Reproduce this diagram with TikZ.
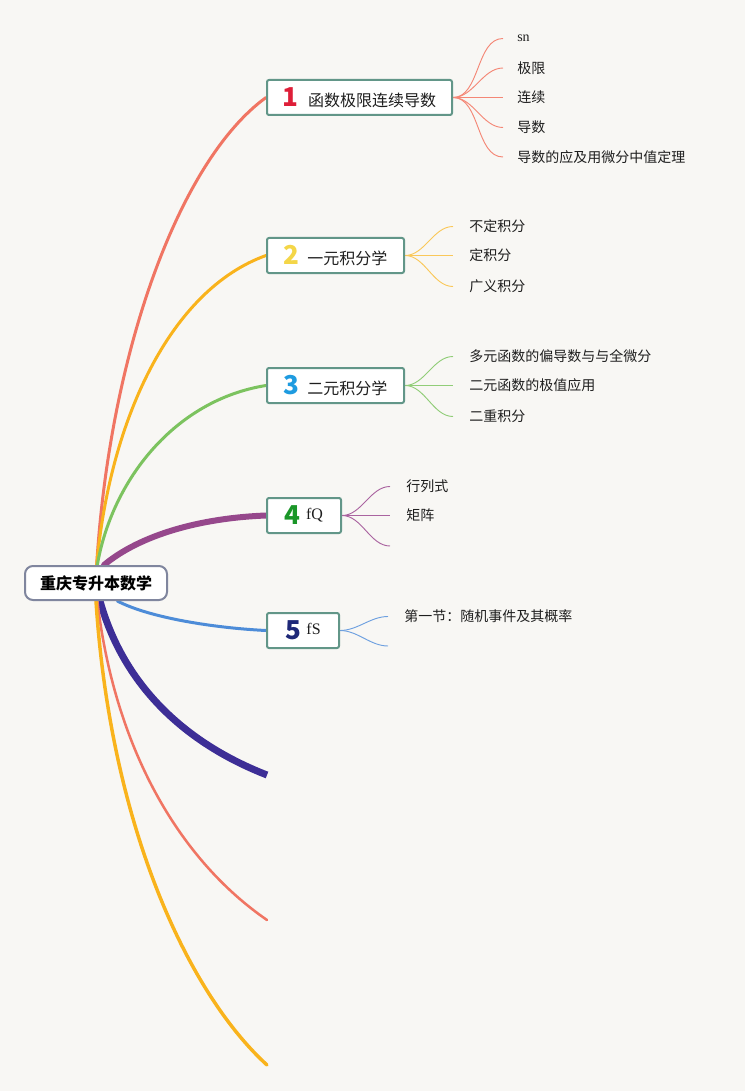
\documentclass[tikz,border=0pt]{standalone}
\usepackage{fontspec}
\setmainfont{Noto Sans CJK SC}
\newfontfamily\cjk{Noto Sans CJK SC}
\newfontfamily\serifen{Liberation Serif}
\definecolor{bgc}{RGB}{248,247,244}
\definecolor{boxline}{RGB}{98,150,136}
\definecolor{rootline}{RGB}{128,134,158}
\definecolor{cRed}{RGB}{240,117,99}
\definecolor{cYel}{RGB}{249,179,28}
\definecolor{cGrn}{RGB}{124,195,95}
\definecolor{cPur}{RGB}{150,72,140}
\definecolor{cBlu}{RGB}{77,140,216}
\definecolor{cNavy}{RGB}{61,46,150}
\definecolor{sRed}{RGB}{244,135,118}
\definecolor{sYel}{RGB}{250,200,90}
\definecolor{sGrn}{RGB}{145,205,120}
\definecolor{sPur}{RGB}{170,100,160}
\definecolor{sBlu}{RGB}{110,160,224}
\definecolor{nRed}{RGB}{222,30,56}
\definecolor{nYel}{RGB}{244,214,72}
\definecolor{nBlu}{RGB}{30,155,224}
\definecolor{nGrn}{RGB}{26,150,40}
\definecolor{nNavy}{RGB}{30,40,120}
\definecolor{txt}{RGB}{30,30,30}
\pgfdeclarelayer{bglayer}
\pgfdeclarelayer{lines}
\pgfsetlayers{bglayer,lines,main}
\newcommand{\numtxt}[2]{{\color{#1}\fontsize{19.5}{19.5}\selectfont\bfseries #2}}
\tikzset{
  topic/.style={draw=boxline, line width=1.5pt, fill=white, rounded corners=1.5pt,
    minimum height=26.25pt, inner sep=0pt, font=\fontsize{12}{12}\selectfont, text=txt},
  rootbox/.style={draw=rootline, line width=1.5pt, fill=white, rounded corners=6pt,
    minimum width=106.5pt, minimum height=25.5pt, inner sep=0pt,
    font=\fontsize{12}{12}\selectfont\bfseries, text=black},
  leaf/.style={anchor=west, inner sep=0pt, font=\fontsize{10.5}{10.5}\selectfont, text=txt},
  main/.style={line width=2.25pt, line cap=round},
  sub/.style={line width=0.7pt, out=0, in=180, looseness=0.9},
}
\begin{document}
\begin{tikzpicture}[x=0.75pt,y=-0.75pt]
\useasboundingbox (0,0) rectangle (745,1091);
\begin{pgfonlayer}{bglayer}
\fill[bgc] (0,0) rectangle (745,1091);
\end{pgfonlayer}

% root
\node[rootbox] (root) at (96,583) {重庆专升本数学};

% topics
\node[topic, minimum width=138.75pt] (b1) at (359.5,97.5) {\numtxt{nRed}{1}\hspace{7pt}函数极限连续导数};
\node[topic, minimum width=102.75pt] (b2) at (335.5,255.5) {\numtxt{nYel}{2}\hspace{6pt}一元积分学};
\node[topic, minimum width=102.75pt] (b3) at (335.5,385.5) {\numtxt{nBlu}{3}\hspace{6pt}二元积分学};
\node[topic, minimum width=55.5pt] (b4) at (304,515.5) {\numtxt{nGrn}{4}\hspace{4pt}\raisebox{4pt}{\serifen fQ}};
\node[topic, minimum width=54pt] (b5) at (303,630.5) {\numtxt{nNavy}{5}\hspace{4pt}\raisebox{4pt}{\serifen fS}};

% leaves
\node[leaf] (l11) at (517,38.5) {\serifen sn};
\node[leaf] (l12) at (517,68) {极限};
\node[leaf] (l13) at (517,97.5) {连续};
\node[leaf] (l14) at (517,127.5) {导数};
\node[leaf] (l15) at (517,157) {导数的应及用微分中值定理};

\node[leaf] (l21) at (469,226.5) {不定积分};
\node[leaf] (l22) at (469,255.5) {定积分};
\node[leaf] (l23) at (469,286.5) {广义积分};

\node[leaf] (l31) at (469,356.5) {多元函数的偏导数与与全微分};
\node[leaf] (l32) at (469,385.5) {二元函数的极值应用};
\node[leaf] (l33) at (469,416.5) {二重积分};

\node[leaf] (l41) at (406,486.5) {行列式};
\node[leaf] (l42) at (406,515.5) {矩阵};
\coordinate (l43) at (390,546);

\node[leaf] (l51) at (404,616.5) {第一节：随机事件及其概率};
\coordinate (l52) at (388,646);

% free ends
\coordinate (e6) at (267,775);
\coordinate (e7) at (267,920);
\coordinate (e8) at (267,1065);

\begin{pgfonlayer}{lines}
% main branches
\draw[main, cRed] ([xshift=0.5pt]root.north) .. controls (110,350) and (180,160) .. (b1.west);
\draw[main, cYel] ([xshift=0.5pt]root.north) .. controls (110,420) and (170,290) .. (b2.west);
\draw[main, cGrn] ([xshift=1pt]root.north) .. controls (112,480) and (175,400) .. (b3.west);
\draw[main, cPur, line width=4.5pt] ([xshift=6pt]root.north) .. controls (140,535) and (200,518) .. (b4.west);
\draw[main, cBlu] ([xshift=16pt]root.south) .. controls (150,618) and (215,628) .. (b5.west);
\draw[main, cNavy, line width=5.25pt, line cap=butt] ([xshift=3pt]root.south) .. controls (125,690) and (190,745) .. (e6);
\draw[main, cRed, line width=1.9pt] ([xshift=1pt]root.south) .. controls (115,750) and (180,860) .. (e7);
\draw[main, cYel, line width=2.6pt] (root.south) .. controls (110,820) and (185,990) .. (e8);

% sub branches
\foreach \l in {l11,l12,l13,l14,l15}
  \draw[sub, sRed] (b1.east) to ([xshift=-10.5pt]\l.west);
\foreach \l in {l21,l22,l23}
  \draw[sub, sYel] (b2.east) to ([xshift=-12pt]\l.west);
\foreach \l in {l31,l32,l33}
  \draw[sub, sGrn] (b3.east) to ([xshift=-12pt]\l.west);
\foreach \l in {l41,l42}
  \draw[sub, sPur] (b4.east) to ([xshift=-12pt]\l.west);
\draw[sub, sPur] (b4.east) to (l43);
\draw[sub, sBlu] (b5.east) to ([xshift=-12pt]l51.west);
\draw[sub, sBlu] (b5.east) to (l52);
\end{pgfonlayer}
\end{tikzpicture}
\end{document}
